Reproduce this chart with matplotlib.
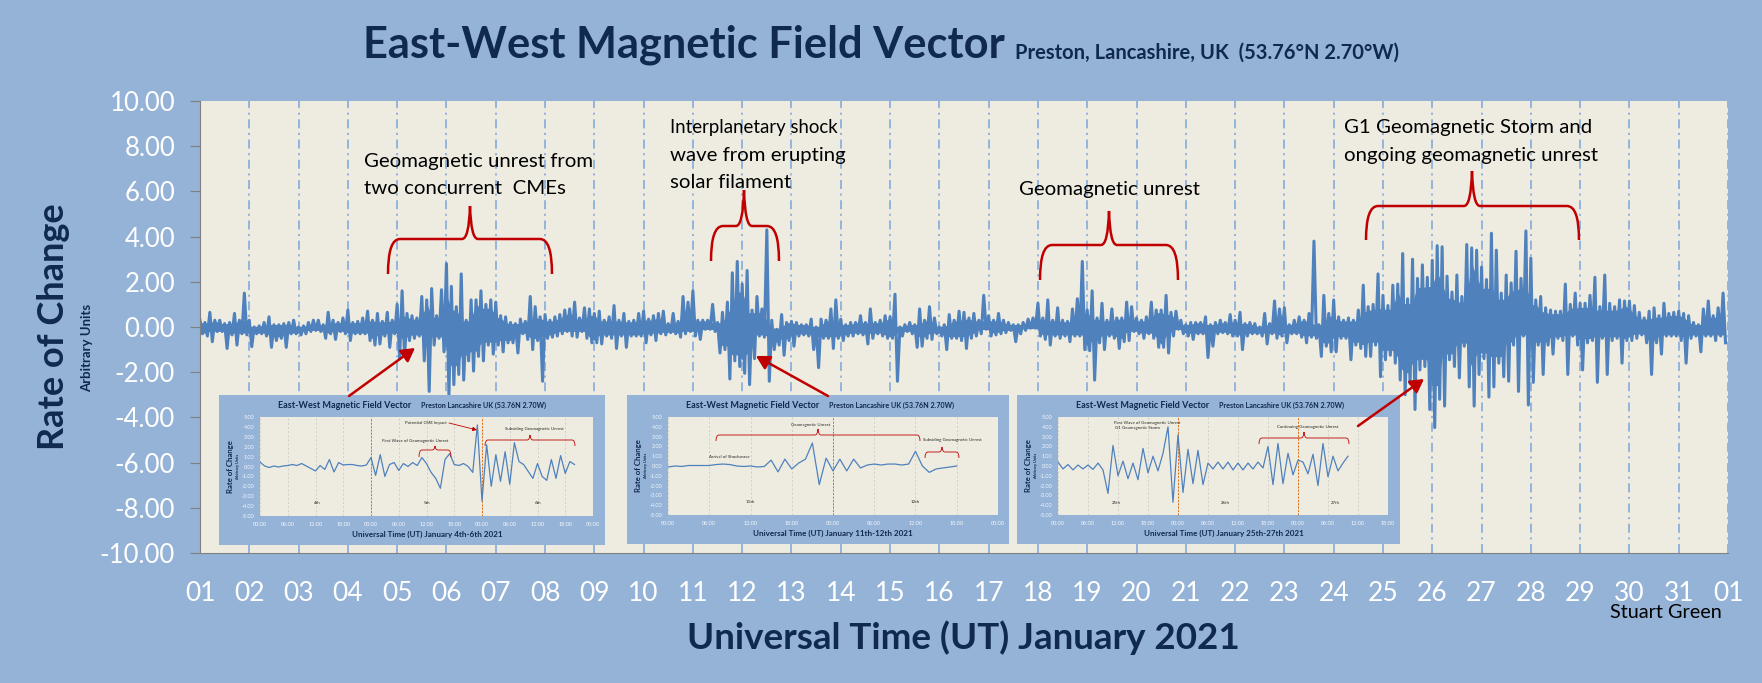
import numpy as np
import matplotlib
matplotlib.use("Agg")
import matplotlib.pyplot as plt
from matplotlib.patches import PathPatch
from matplotlib.path import Path

plt.rcParams['font.family'] = ['Lato', 'DejaVu Sans']

# Colours
bg_blue = '#95B3D7'
plot_bg = '#EEECE1'
navy = '#10294E'
trace_blue = '#4F81BD'
grid_blue = '#8DB0DD'
brace_red = '#C00000'

# Upper and lower envelope of the trace, one row per day (0.1 day steps)
upper = [
    .3, .2, .65, .3, .3, .15, .2, .6, .3, 1.5,
    .3, .0, .05, .2, .45, .1, .1, .15, .2, .3,
    .0, .05, .2, .3, .3, .1, .65, .3, .2, .4,
    .75, .2, .25, .4, .7, .3, .6, .25, .65, .3,
    1.0, 1.6, .6, .5, .4, 1.35, 1.2, 1.7, .5, 1.65,
    2.8, 1.8, .9, 2.35, .3, 1.2, 1.2, 1.6, 1.0, 1.2,
    1.1, .5, .45, .2, .15, .35, .25, 1.35, .9, .45,
    .55, .3, .45, .55, .75, .8, 1.1, .4, .85, .8,
    .6, .7, .3, .45, .95, .3, .6, .25, .3, .6,
    .7, .35, .5, .6, .7, .15, .6, .25, 1.35, 1.1,
    1.6, .3, .3, .3, 1.0, .2, .65, 1.1, 2.4, 2.9,
    1.9, 2.5, .75, 1.35, .8, 4.3, .3, -.1, .55, .2,
    .25, .2, .1, .1, .35, .0, .35, .3, .8, 1.2,
    .35, .1, .2, .2, .5, .2, .8, .2, .3, .5,
    .45, 1.45, .0, .1, .2, .1, .8, .3, .9, .4,
    .0, .1, .55, .3, .7, .65, .4, .6, .3, 1.4,
    .5, .3, .6, .3, .2, .1, .1, .2, .35, .4,
    1.05, .4, 1.2, .3, .85, .3, .25, .8, 1.25, 2.9,
    .75, 1.6, .4, 1.05, .3, .8, .4, .4, 1.1, .9,
    .4, .3, .45, 1.1, .75, .75, 1.4, .65, .7, .3,
    .1, .2, .2, .2, .45, .1, .2, .3, .2, .55,
    .3, .65, .15, .2, .15, .0, .6, .15, 1.15, .8,
    .85, .1, .3, .45, .3, .6, 3.8, .1, 1.4, .6,
    1.2, .45, .3, .4, .3, .75, 1.85, .9, 1.0, 2.35,
    1.4, .95, 1.85, 1.9, 3.25, 1.25, 3.0, 2.15, 2.75, 2.2,
    2.95, 3.6, 3.55, 2.25, 1.55, 2.3, 1.35, 3.65, 3.5, 3.4,
    2.65, 2.1, 4.15, 3.4, 1.5, 2.3, 1.95, 3.35, 2.15, 4.25,
    3.05, 1.2, 1.35, .85, .75, .7, .7, 1.9, 1.0, 1.5,
    1.05, 1.05, 1.4, 2.2, .9, 2.3, 1.05, .9, 1.2, 1.15,
    1.15, .95, .65, .4, .7, .85, .5, 1.05, .6, .65,
    .7, .6, .5, .2, .1, .8, 1.15, .5, .85, 1.5,
]
lower = [
    -.3, -.4, -.65, -.2, -.2, -.95, -.35, -.8, -.3, -.35,
    -.87, -.3, -.3, -.4, -.9, -.6, -.5, -.9, -.3, -.3,
    -.35, -.3, -.2, -.15, -.2, -.5, -.3, -.55, -.2, -.3,
    -.6, -.3, -.3, -.3, -.6, -.8, -.75, -.4, -.9, -.3,
    -1.4, -1.3, -.6, -.5, -.4, -1.5, -2.85, -.8, -.5, -1.1,
    -3.0, -2.55, -2.1, -2.35, -1.5, -1.95, -1.3, -1.5, -.8, -1.2,
    -.8, -1.1, -.7, -.7, -1.15, -.3, -.55, -1.0, -.6, -2.4,
    -.5, -.45, -.4, -.3, -.2, -.4, -.45, -.2, -.5, -.7,
    -.7, -.75, -.4, -.5, -.95, -.4, -.9, -.4, -.4, -.4,
    -.7, -.35, -.6, -.3, -.35, -.25, -.3, -.45, -.3, -.2,
    -.4, -.55, -.1, -.1, -.2, -1.15, -1.0, -2.3, -1.5, -1.75,
    -2.05, -2.55, -1.4, -.4, -.45, -2.4, -1.0, -.8, -1.25, -.6,
    -.85, -.4, -.35, -.4, -1.0, -1.8, -.5, -.5, -.95, -.5,
    -.6, -.4, -.4, -.3, -.35, -.75, -.5, -.3, -.4, -.5,
    -.5, -2.4, -.4, -.2, -.3, -.9, -.85, -.5, -.55, -.3,
    -.4, -1.0, -.5, -.5, -.6, -.95, -.5, -.4, -.3, -.1,
    -.4, -.35, -.3, -.25, -.15, -.65, -.3, -.15, -.05, -.05,
    -.4, -.55, -.8, -.4, -.5, -.4, -.65, -.4, -.4, -1.0,
    -1.05, -2.35, -.7, -1.0, -.4, -.5, -.95, -.65, -.6, -.2,
    -.3, -.5, -.3, -.5, -.9, -.9, -1.15, -.4, -.1, -.3,
    -.4, -.55, -.3, -.3, -1.35, -.85, -.3, -.25, -.3, -.4,
    -.4, -1.0, -.4, -.3, -.3, -.4, -.75, -.3, -.5, -.4,
    -.7, -.3, -.3, -.45, -.7, -.45, -.5, -1.3, -.85, -1.1,
    -1.1, -.5, -.5, -1.45, -.8, -.95, -1.3, -1.3, -.8, -2.2,
    -1.45, -1.25, -1.6, -2.35, -3.0, -2.5, -3.65, -1.9, -1.75, -3.65,
    -4.45, -3.2, -3.5, -1.45, -1.75, -2.25, -.85, -2.65, -3.5, -2.1,
    -1.4, -3.1, -2.65, -1.6, -2.2, -2.4, -.8, -2.85, -.4, -3.45,
    -2.45, -.8, -2.1, -.8, -1.2, -.5, -.6, -2.1, -.4, -.8,
    -1.9, -.7, -.6, -2.45, -.5, -2.1, -.6, -.5, -1.6, -.6,
    -.6, -.5, -.35, -.7, -2.1, -.7, -1.2, -.4, -.4, -.4,
    -.6, -1.6, -.5, -.4, -1.1, -.4, -.4, -.6, -.4, -.7,
]

day_labels = ['%02d' % d for d in range(1, 32)] + ['01']
y_ticks = [-10, -8, -6, -4, -2, 0, 2, 4, 6, 8, 10]

# Hourly values of the three small inset charts
inset1_values = [.45, .05, -.1, .05, -.05, .05, .1, .2, .1, .3, .05, -.2, -.45, .1, -.3, .7, -.55, .4, .15, .2,
                 .2, .1, .05, .15, .9, -.9, 1.2, -1.0, .2, .4, -.4, .3, .0, .4, .1, .9, .3, -.6, -1.2, -2.2,
                 .7, 1.3, .2, .1, .3, .0, -.6, 4.2, -3.5, 2.2, -2.0, 1.2, -1.5, 1.5, -1.8, 2.4, .5, .2, -.5,
                 -1.2, .3, -1.0, -1.4, .7, -1.2, 1.1, -.7, .5, .2]
inset2_values = [-.1, .0, -.05, .05, .05, .05, .05, .15, .2, .15, .0, -.05, .0, -.1, -.05, .6, -.6, .7, -.3, .3,
                 .7, 2.35, -1.9, .8, -.5, .7, -.5, .7, -.2, .1, .2, .1, .2, .2, .1, .2, 1.5, .0, -.65, -.3,
                 -.2, -.1, .0]
inset3_values = [.4, -.3, .15, -.4, .1, -.3, .1, -.35, .3, -.4, -2.8, 2.1, -1.0, .5, -1.3, .3, -1.4, 1.8, -.7, 1.0,
                 -.5, 1.3, 4.0, -3.7, 3.2, -2.7, 1.7, -1.8, 1.6, -1.9, .3, -.3, .4, -.3, .4, -.4, .3, -.4, .3,
                 -.3, .4, -.2, 2.0, -1.9, 2.3, -1.8, 1.3, -.9, .6, .4, -.8, 1.2, -2.0, 2.3, -1.1, 1.0, -.5, .3, 1.0]
inset_y_ticks = [-5, -4, -3, -2, -1, 0, 1, 2, 3, 4, 5]

W, H = 1762, 683


def fig_rect(left, top, right, bottom):
    # pixel box (from the top left corner) to figure fractions
    return [left / W, 1 - bottom / H, (right - left) / W, (bottom - top) / H]


def draw_brace(ax, x0, x1, y_flat, y_tip, x_peak, y_peak, lw=1.8, r=12, neck=8):
    verts = [(x0, y_tip), (x0, y_flat), (x0 + r, y_flat), (x_peak - neck, y_flat),
             (x_peak - neck / 8, y_flat), (x_peak, y_peak), (x_peak + neck / 8, y_flat), (x_peak + neck, y_flat),
             (x1 - r, y_flat), (x1, y_flat), (x1, y_tip)]
    codes = [Path.MOVETO, Path.CURVE3, Path.CURVE3, Path.LINETO,
             Path.CURVE3, Path.CURVE3, Path.CURVE3, Path.CURVE3,
             Path.LINETO, Path.CURVE3, Path.CURVE3]
    ax.add_patch(PathPatch(Path(verts, codes), fc='none', ec=brace_red, lw=lw))


def draw_inset(panel, plot, values, tick_labels, orange_hours):
    # blue panel behind the small chart
    p = fig.add_axes(fig_rect(*panel), zorder=2)
    p.set_facecolor(bg_blue)
    p.set_xticks([])
    p.set_yticks([])
    for s in p.spines.values():
        s.set_visible(False)

    a = fig.add_axes(fig_rect(*plot), zorder=3)
    a.set_facecolor(plot_bg)
    last_hour = (len(tick_labels) - 1) * 6
    a.set_xlim(0, last_hour)
    a.set_ylim(-5, 5)
    a.set_xticks(list(range(0, last_hour + 1, 6)))
    a.set_xticklabels(tick_labels)
    a.set_yticks(inset_y_ticks)
    a.set_yticklabels(['%.2f' % v for v in inset_y_ticks])
    a.tick_params(colors='#F4F7FB', labelsize=4.0, length=0, pad=4)
    a.grid(axis='x', color='#C4C4C4', ls=(0, (3, 3)), lw=0.5)
    for h in orange_hours:
        a.axvline(h, color='#E46C0A', ls=(0, (2, 1.5)), lw=0.7)
    a.plot(range(len(values)), values, color=trace_blue, lw=0.9)
    for s in a.spines.values():
        s.set_visible(False)


def label_inset(panel, plot, xlabel):
    # titles and axis names
    over.text(panel[0] + 59, panel[1] + 10, 'East-West Magnetic Field Vector', ha='left', va='center',
              color=navy, fontsize=6.5, fontweight='bold')
    over.text(panel[0] + 202, panel[1] + 10.5, 'Preston Lancashire UK (53.76N 2.70W)', ha='left', va='center',
              color=navy, fontsize=5.1, fontweight='bold')
    over.text((panel[0] + panel[2]) / 2 + 15, panel[3] - 11, xlabel, ha='center', va='center',
              color=navy, fontsize=5.75, fontweight='bold')
    over.text(panel[0] + 11, (plot[1] + plot[3]) / 2, 'Rate of Change', rotation=90, ha='center', va='center',
              color=navy, fontsize=5.6, fontweight='bold')
    over.text(panel[0] + 19, (plot[1] + plot[3]) / 2, 'Arbitrary Units', rotation=90, ha='center', va='center',
              color=navy, fontsize=2.8, fontweight='bold')


fig = plt.figure(figsize=(W / 100, H / 100), dpi=100, facecolor=bg_blue)

# Main chart
ax = fig.add_axes(fig_rect(200, 101, 1728, 553), zorder=1)
ax.set_facecolor(plot_bg)
ax.set_xlim(1, 32)
ax.set_ylim(-10, 10)
ax.set_xticks(range(1, 33))
ax.set_xticklabels(day_labels)
ax.set_yticks(y_ticks)
ax.set_yticklabels(['%.2f' % v for v in y_ticks])
ax.tick_params(axis='y', colors='white', labelsize=18.5, length=7, color='#808080', pad=11)
ax.tick_params(axis='x', colors='white', labelsize=19, length=0, pad=20)
ax.grid(axis='x', color=grid_blue, lw=1.3, ls=(0, (5, 2.5, 1.2, 2.5)))
ax.set_axisbelow(True)
for name, s in ax.spines.items():
    s.set_visible(name in ('left', 'bottom'))
    s.set_color('#808080')

# Zigzag between the two envelopes so the trace reads as a dense signal
t = 1 + 0.1 * np.arange(len(upper))
x_trace = np.empty(2 * len(upper))
y_trace = np.empty(2 * len(upper))
x_trace[0::2], x_trace[1::2] = t, t + 0.05
y_trace[0::2], y_trace[1::2] = upper, lower

# The solid core under the spikes: smallest swing among each point and its neighbours
upper_arr = np.array(upper)
lower_arr = np.array(lower)
core_up = np.array([upper_arr[max(i - 1, 0):i + 2].min() for i in range(len(t))])
core_lo = np.array([lower_arr[max(i - 1, 0):i + 2].max() for i in range(len(t))])
ax.fill_between(t, 0.8 * core_lo, 0.8 * core_up, color=trace_blue, lw=1.0)
ax.plot(x_trace, y_trace, color=trace_blue, lw=2.2, solid_joinstyle='round')

# Overlay in pixel coordinates for texts, braces and arrows
over = fig.add_axes([0, 0, 1, 1], zorder=5)
over.set_xlim(0, W)
over.set_ylim(H, 0)
over.axis('off')
over.patch.set_alpha(0)

# Insets
panel1, plot1 = (219, 395, 605, 545), (260, 417, 593, 516)
panel2, plot2 = (627, 395, 1009, 544), (668, 417, 998, 515)
panel3, plot3 = (1017, 395, 1400, 544), (1058, 417, 1388, 515)
draw_inset(panel1, plot1, inset1_values, ['00:00', '06:00', '12:00', '18:00'] * 3 + ['00:00'], [24, 48])
draw_inset(panel2, plot2, inset2_values, ['00:00', '06:00', '12:00', '18:00'] * 2 + ['00:00'], [24])
draw_inset(panel3, plot3, inset3_values, ['00:00', '06:00', '12:00', '18:00'] * 3, [24, 48])
label_inset(panel1, plot1, 'Universal Time (UT) January 4th-6th 2021')
label_inset(panel2, plot2, 'Universal Time (UT) January 11th-12th 2021')
label_inset(panel3, plot3, 'Universal Time (UT) January 25th-27th 2021')

# Title and axis names
over.text(363, 45, 'East-West Magnetic Field Vector', color=navy, fontsize=31.2, fontweight='bold', va='center')
over.text(1015, 53, 'Preston, Lancashire, UK  (53.76°N 2.70°W)', color=navy, fontsize=14.5, fontweight='bold', va='center')
over.text(54, 327, 'Rate of Change', color=navy, fontsize=26, fontweight='bold', rotation=90, ha='center', va='center')
over.text(87, 348, 'Arbitrary Units', color=navy, fontsize=9.5, fontweight='bold', rotation=90, ha='center', va='center')
over.text(963, 638, 'Universal Time (UT) January 2021', color=navy, fontsize=26.5, fontweight='bold', ha='center', va='center')
over.text(1666, 612, 'Stuart Green', color='black', fontsize=14.3, ha='center', va='center')

# Main annotations
note_size = 14.7
over.text(364, 161, 'Geomagnetic unrest from', fontsize=note_size, va='center')
over.text(364, 189, 'two concurrent  CMEs', fontsize=note_size, va='center')
over.text(670, 128, 'Interplanetary shock', fontsize=13.4, va='center')
over.text(670, 155, 'wave from erupting', fontsize=note_size, va='center')
over.text(670, 182, 'solar filament', fontsize=note_size, va='center')
over.text(1019, 190, 'Geomagnetic unrest', fontsize=note_size, va='center')
over.text(1344, 127, 'G1 Geomagnetic Storm and', fontsize=note_size, va='center')
over.text(1344, 155, 'ongoing geomagnetic unrest', fontsize=note_size, va='center')

draw_brace(over, 388, 552, 239, 274, 470, 206)
draw_brace(over, 711, 779, 226, 261, 744, 190)
draw_brace(over, 1040, 1178, 245, 280, 1109, 211)
draw_brace(over, 1366, 1579, 206, 240, 1472, 171)

for tail, tip in [((349, 396), (415, 348)), ((828, 396), (756, 356)), ((1358, 426), (1424, 379))]:
    over.annotate('', xy=tip, xytext=tail,
                  arrowprops=dict(arrowstyle='-|>,head_width=0.45,head_length=0.8', color=brace_red, lw=1.8,
                                  shrinkA=0, shrinkB=0))

# Inset annotations, first small chart
small = dict(fontsize=3.2, color='#262626', va='center', ha='center')
tiny_brace = dict(lw=0.6, r=3, neck=3)
over.text(426, 423, 'Potential CME Impact', **small)
over.text(415, 441, 'First Wave of Geomagnetic Unrest', **small)
over.text(534, 429, 'Subsiding Geomagnetic Unrest', **small)
over.text(317, 503, '4th', **small)
over.text(427, 503, '5th', **small)
over.text(538, 503, '6th', **small)
draw_brace(over, 419, 451, 450, 457, 435, 446, **tiny_brace)
draw_brace(over, 485, 575, 440, 446, 530, 435, **tiny_brace)
over.annotate('', xy=(477, 430), xytext=(449, 423),
              arrowprops=dict(arrowstyle='-|>,head_width=0.12,head_length=0.25', color=brace_red, lw=0.6,
                              shrinkA=0, shrinkB=0))

# second small chart
over.text(811, 425, 'Geomagnetic Unrest', **small)
over.text(729, 457, 'Arrival of Shockwave', **small)
over.text(952, 440, 'Subsiding Geomagnetic Unrest', **small)
over.text(750, 502, '11th', **small)
over.text(915, 502, '12th', **small)
draw_brace(over, 716, 920, 435, 441, 818, 429, **tiny_brace)
draw_brace(over, 925, 959, 452, 458, 942, 447, **tiny_brace)

# third small chart
over.text(1147, 423, 'First Wave of Geomagnetic Unrest', **small)
over.text(1137, 428, 'G1 Geomagnetic Storm', **small)
over.text(1308, 427, 'Continuing Geomagnetic Unrest', **small)
over.text(1116, 503, '25th', **small)
over.text(1225, 503, '26th', **small)
over.text(1335, 503, '27th', **small)
draw_brace(over, 1259, 1349, 438, 444, 1304, 432, **tiny_brace)

fig.savefig('out.png', dpi=100, facecolor=bg_blue)
